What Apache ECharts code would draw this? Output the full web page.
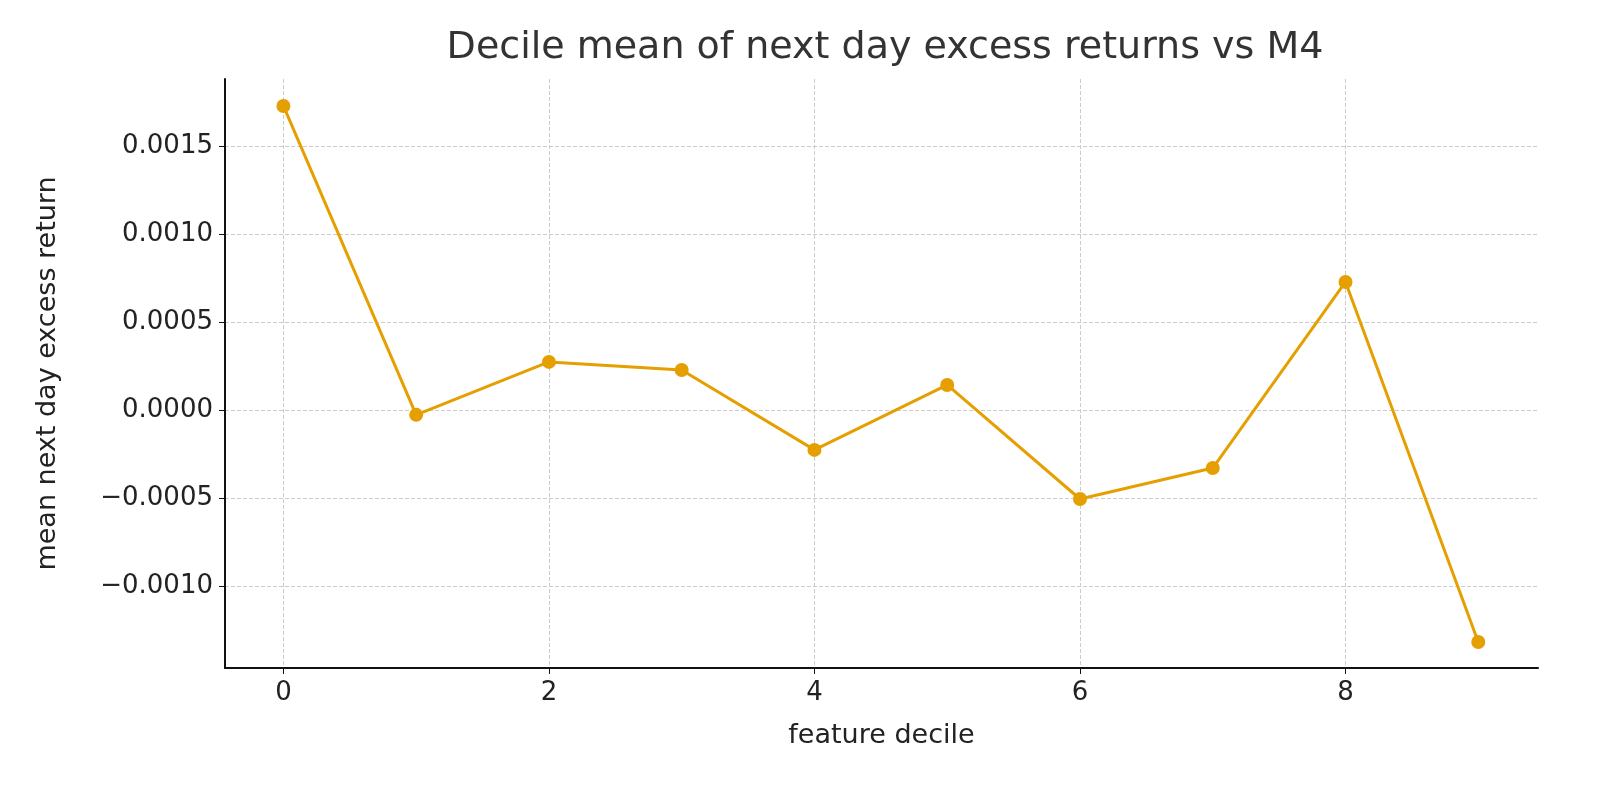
<!DOCTYPE html>
<html><head><meta charset="utf-8">
<script src="https://cdn.jsdelivr.net/npm/echarts@6/dist/echarts.min.js"></script>
<style>html,body{margin:0;background:#fff}#c{width:1600px;height:800px}</style>
</head><body><div id="c"></div>
<script>
var deciles = [0, 1, 2, 3, 4, 5, 6, 7, 8, 9];
var meanReturns = [0.001727, -0.000028, 0.000273, 0.000227, -0.000227, 0.000142, -0.000506, -0.00033, 0.000727, -0.001318];
var xTicks = [0, 2, 4, 6, 8];
var yTicks = [-0.001, -0.0005, 0, 0.0005, 0.001, 0.0015];

var font = 'DejaVu Sans';
var chart = echarts.init(document.getElementById('c'));
chart.setOption({
  animation: false,
  title: { text: 'Decile mean of next day excess returns vs M4', left: 880, top: 24, textAlign: 'center',
    textStyle: { fontFamily: font, fontSize: 38, fontWeight: 'normal', color: '#333' } },
  grid: { left: 225, right: 62, top: 79, bottom: 132 },
  xAxis: {
    type: 'value', min: -0.44, max: 9.45,
    name: 'feature decile', nameLocation: 'middle', nameGap: 54,
    nameTextStyle: { fontFamily: font, fontSize: 27, color: '#222' },
    axisLine: { onZero: false, lineStyle: { color: '#111', width: 2 } },
    axisTick: { customValues: xTicks, length: 6, lineStyle: { color: '#111' } },
    axisLabel: { customValues: xTicks, fontFamily: font, fontSize: 26, color: '#222', margin: 12 },
    splitLine: { show: true, lineStyle: { color: '#ccc', type: 'dashed' } }
  },
  yAxis: {
    type: 'value', min: -0.001466, max: 0.00188,
    name: 'mean next day excess return', nameLocation: 'middle', nameGap: 164, nameRotate: 90,
    nameTextStyle: { fontFamily: font, fontSize: 27, color: '#222' },
    axisLine: { show: true, onZero: false, lineStyle: { color: '#111', width: 2 } },
    axisTick: { show: true, customValues: yTicks, length: 6, lineStyle: { color: '#111' } },
    axisLabel: { customValues: yTicks, fontFamily: font, fontSize: 26, color: '#222', margin: 12,
      formatter: function (v) { return (v < 0 ? '\u2212' : '') + Math.abs(v).toFixed(4); } },
    splitLine: { show: true, lineStyle: { color: '#ccc', type: 'dashed' } }
  },
  series: [{
    type: 'line',
    data: deciles.map(function (d, i) { return [d, meanReturns[i]]; }),
    symbol: 'circle', symbolSize: 14,
    lineStyle: { color: '#E69F00', width: 3 },
    itemStyle: { color: '#E69F00' }
  }]
});
</script></body></html>
